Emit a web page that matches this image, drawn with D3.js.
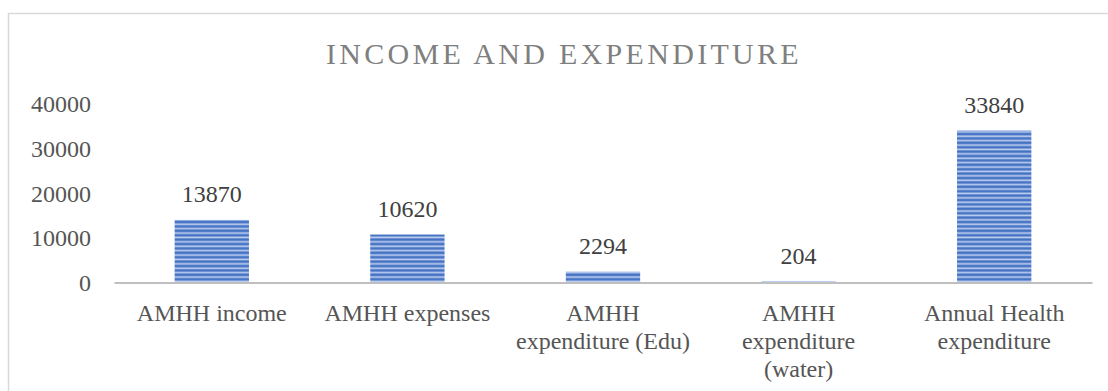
<!DOCTYPE html>
<html>
<head>
<meta charset="utf-8">
<script src="https://cdn.jsdelivr.net/npm/d3@7"></script>
<style>
  html, body { margin: 0; padding: 0; background: #ffffff; }
  svg { display: block; }
  text { font-family: "Liberation Serif", "DejaVu Serif", serif; }
</style>
</head>
<body>
<svg id="chart" width="1108" height="391"></svg>
<script>
// Chart data
const categories = [
  "AMHH income",
  "AMHH expenses",
  "AMHH expenditure (Edu)",
  "AMHH expenditure (water)",
  "Annual Health expenditure"
];
const categoryLines = [
  ["AMHH income"],
  ["AMHH expenses"],
  ["AMHH", "expenditure (Edu)"],
  ["AMHH", "expenditure", "(water)"],
  ["Annual Health", "expenditure"]
];
const values = [13870, 10620, 2294, 204, 33840];
const yTicks = [0, 10000, 20000, 30000, 40000];
const chartTitle = "INCOME AND EXPENDITURE";

const svg = d3.select("#chart");

// Plot area
const plot = { left: 114, right: 1092, top: 103, bottom: 282 };

// Chart area frame (extends past the visible window on the right and bottom)
svg.append("rect")
  .attr("x", 8.5).attr("y", 13.5)
  .attr("width", 1130).attr("height", 420)
  .attr("fill", "#ffffff")
  .attr("stroke", "#d9d9d9")
  .attr("stroke-width", 1.5);

// Striped fill for the bars
const defs = svg.append("defs");
const pat = defs.append("pattern")
  .attr("id", "stripes")
  .attr("patternUnits", "userSpaceOnUse")
  .attr("width", 8).attr("height", 4.4)
  .attr("y", plot.bottom);
pat.append("rect").attr("width", 8).attr("height", 4.4).attr("fill", "#bccdee");
pat.append("rect").attr("y", 0).attr("width", 8).attr("height", 0.6).attr("fill", "#6a8fd4");
pat.append("rect").attr("y", 0.6).attr("width", 8).attr("height", 2.0).attr("fill", "#4472c4");
pat.append("rect").attr("y", 2.6).attr("width", 8).attr("height", 0.6).attr("fill", "#6a8fd4");

// Scales
const x = d3.scaleBand()
  .domain(categories)
  .range([plot.left, plot.right])
  .paddingInner(0.62)
  .paddingOuter(0.31);

const y = d3.scaleLinear()
  .domain([0, 40000])
  .range([plot.bottom, plot.top]);

// Title
svg.append("text")
  .attr("x", 564)
  .attr("y", 64)
  .attr("text-anchor", "middle")
  .attr("font-size", 30)
  .attr("letter-spacing", "3.3px")
  .attr("fill", "#7f7f7f")
  .text(chartTitle);

// Value axis labels (no line, no gridlines)
const yAxis = svg.append("g")
  .attr("transform", `translate(${plot.left},0)`)
  .call(d3.axisLeft(y).tickValues(yTicks).tickSize(0).tickPadding(23).tickFormat(d3.format("d")));
yAxis.select(".domain").remove();
yAxis.selectAll("text")
  .attr("font-family", "Liberation Serif, DejaVu Serif, serif")
  .attr("font-size", 24)
  .attr("fill", "#555555")
  .attr("dy", "0.36em");

// Bars
svg.append("g").selectAll("rect")
  .data(values)
  .join("rect")
  .attr("x", (d, i) => x(categories[i]))
  .attr("width", x.bandwidth())
  .attr("y", d => y(d))
  .attr("height", d => y(0) - y(d))
  .attr("fill", "url(#stripes)");

// Category axis line
const xAxis = svg.append("g")
  .attr("transform", `translate(0,${plot.bottom + 0.5})`)
  .call(d3.axisBottom(x).tickSize(0).tickFormat(""));
xAxis.select(".domain")
  .attr("stroke", "#bfbfbf")
  .attr("stroke-width", 2.2);

// Category labels, wrapped
svg.append("g").selectAll("text")
  .data(categories)
  .join("text")
  .attr("text-anchor", "middle")
  .attr("font-size", 24)
  .attr("fill", "#555555")
  .each(function (d, i) {
    const t = d3.select(this);
    const cx = x(d) + x.bandwidth() / 2;
    categoryLines[i].forEach((line, k) => {
      t.append("tspan")
        .attr("x", cx)
        .attr("y", 320.5 + k * 28)
        .text(line);
    });
  });

// Data labels
svg.append("g").selectAll("text")
  .data(values)
  .join("text")
  .attr("x", (d, i) => x(categories[i]) + x.bandwidth() / 2)
  .attr("y", d => y(d) - 17.5)
  .attr("text-anchor", "middle")
  .attr("font-size", 24)
  .attr("fill", "#404040")
  .text(d => d);
</script>
</body>
</html>
